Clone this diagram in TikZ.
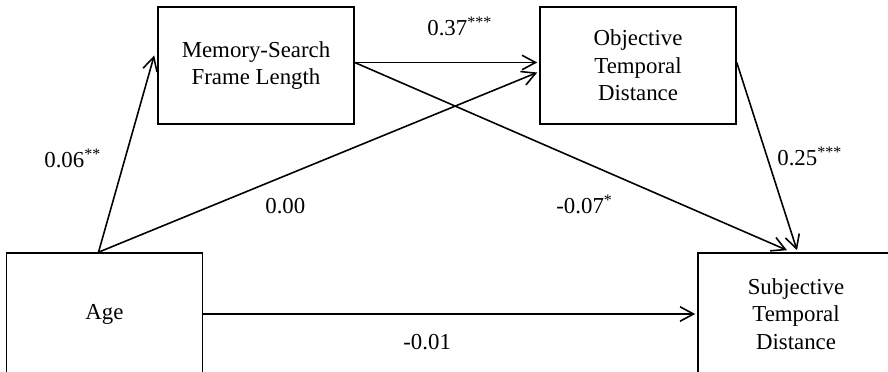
\documentclass[tikz,border=0pt]{standalone}
\usepackage{fontspec}
\setmainfont{Liberation Serif}
\usetikzlibrary{arrows.meta,calc}

\begin{document}
\begin{tikzpicture}[x=0.2mm,y=-0.2mm,
  box/.style={draw,line width=0.9pt,minimum width=39.2mm,minimum height=23.4mm,
    inner sep=0pt,align=center,font=\fontsize{13}{15.6}\selectfont},
  link/.style={-{Straight Barb[length=2.7mm,width=2.9mm]},line width=0.9pt},
  coef/.style={anchor=base west,inner sep=0pt,font=\fontsize{13}{15.6}\selectfont}]
\useasboundingbox (0,0) rectangle (888,371);
\clip (0,0) rectangle (888,371);

% Boxes
\node[box] (memory) at (256,65.5) {Memory-Search\\Frame Length};
\node[box] (objective) at (638,65.5) {Objective\\Temporal\\Distance};
\node[box,minimum height=24.4mm] (age) at (104.5,314) {Age};
\node[box,minimum width=42mm,minimum height=24.4mm] (subjective) at (803,314) {};
\node[align=center,inner sep=0pt,font=\fontsize{13}{15.6}\selectfont] (subjtext) at (796,314) {Subjective\\Temporal\\Distance};

% Paths
\draw[link] ($(age.north)+(-6,0)$) -- ($(memory.west)+(-3,-10)$);
\draw[link] ($(age.north)+(-6,0)$) -- ($(objective.west)+(-2,7)$);
\draw[link] ($(memory.east)+(0,-3)$) -- ($(objective.west)+(-2,-3)$);
\draw[link] ($(memory.east)+(0,-3)$) -- ($(subjective.north)+(-16,-2)$);
\draw[link] ($(objective.east)+(0,-3)$) -- ($(subjective.north)+(-6,-2)$);
\draw[link] (age.east) -- ($(subjective.west)+(-2,0)$);

% Coefficients
\node[coef] (c1) at (44,167) {0.06\textsuperscript{**}};
\node[coef] (c2) at (427,35) {0.37\textsuperscript{***}};
\node[coef] (c3) at (265,213) {0.00};
\node[coef] (c4) at (556,213) {-0.07\textsuperscript{*}};
\node[coef] (c5) at (777,165) {0.25\textsuperscript{***}};
\node[coef] (c6) at (403,349) {-0.01};
\end{tikzpicture}
\end{document}
